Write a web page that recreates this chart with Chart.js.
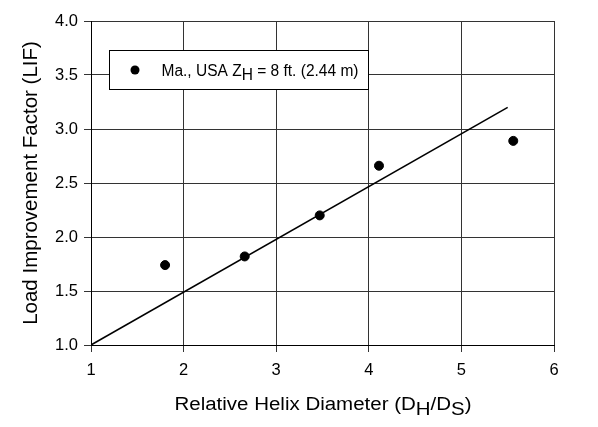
<!DOCTYPE html>
<html>
<head>
<meta charset="utf-8">
<script src="https://cdn.jsdelivr.net/npm/chart.js@4/dist/chart.umd.min.js"></script>
<style>
  html, body { margin: 0; padding: 0; background: #fff; }
  #wrap { width: 598px; height: 427px; }
</style>
</head>
<body>
<div id="wrap"><canvas id="lifChart" width="598" height="427"></canvas></div>
<script>
// ==============================
// DATA
// ==============================
const helixRatio = [1.80, 2.66, 3.47, 4.11, 5.56];
const lifValues = [1.74, 1.82, 2.20, 2.66, 2.89];
const fitX = [1, 5.5];
const fitY = [1.0, 3.2];
const xTicks = [1, 2, 3, 4, 5, 6];
const yTicks = [1.0, 1.5, 2.0, 2.5, 3.0, 3.5, 4.0];

const FONT = "'Liberation Sans', Arial, sans-serif";

// draws text runs with subscripts, returns total width
function drawRuns(ctx, runs, x, y, size, measureOnly) {
  let cx = x;
  runs.forEach(r => {
    ctx.font = `${size}px ${FONT}`;
    const w = ctx.measureText(r.t).width;
    if (!measureOnly) ctx.fillText(r.t, cx, r.sub ? y + size * 0.25 : y);
    cx += w;
  });
  return cx - x;
}

// draws runs centred on cx, stretched to a given width
function drawStretched(ctx, runs, cx, y, size, targetW) {
  const w = drawRuns(ctx, runs, 0, 0, size, true);
  ctx.save();
  ctx.translate(cx, y);
  ctx.scale(targetW / w, 1);
  drawRuns(ctx, runs, -w / 2, 0, size);
  ctx.restore();
}

// ==============================
// LEGEND + X TITLE PLUGIN
// ==============================
const annotations = {
  id: "annotations",
  afterDraw(chart) {
    const ctx = chart.ctx;
    ctx.save();
    ctx.textBaseline = "alphabetic";
    ctx.textAlign = "left";

    // legend box
    ctx.fillStyle = "#fff";
    ctx.fillRect(109.5, 50.5, 259, 39);
    ctx.strokeStyle = "#000";
    ctx.lineWidth = 1;
    ctx.strokeRect(109.5, 50.5, 259, 39);
    ctx.fillStyle = "#000";
    ctx.beginPath();
    ctx.arc(135, 70, 4.5, 0, Math.PI * 2);
    ctx.fill();
    drawStretched(ctx, [
      { t: "Ma., USA Z" }, { t: "H", sub: true }, { t: " = 8 ft. (2.44 m)" }
    ], 260, 75.5, 16, 197);

    // x axis title
    drawStretched(ctx, [
      { t: "Relative Helix Diameter (D" }, { t: "H", sub: true },
      { t: "/D" }, { t: "S", sub: true }, { t: ")" }
    ], 323, 410, 18, 297);
    ctx.restore();
  }
};

// ==============================
// CHART
// ==============================
new Chart(document.getElementById("lifChart"), {
  type: "scatter",
  data: {
    datasets: [
      {
        label: "Ma., USA",
        data: helixRatio.map((x, i) => ({ x: x, y: lifValues[i] })),
        backgroundColor: "#000",
        borderColor: "#000",
        pointRadius: 4.5,
        pointHoverRadius: 4.5
      },
      {
        type: "line",
        label: "fit",
        data: fitX.map((x, i) => ({ x: x, y: fitY[i] })),
        borderColor: "#000",
        borderWidth: 1.6,
        pointRadius: 0,
        fill: false
      }
    ]
  },
  options: {
    responsive: false,
    animation: false,
    layout: { padding: { top: 21, right: 44, bottom: 0, left: 0 } },
    plugins: {
      legend: { display: false },
      tooltip: { enabled: false }
    },
    scales: {
      x: {
        type: "linear",
        min: 1,
        max: 6,
        afterFit: s => { s.height = 82; },
        afterBuildTicks: s => { s.ticks = xTicks.map(v => ({ value: v })); },
        ticks: {
          color: "#000",
          padding: 9,
          font: { family: FONT, size: 16.5 },
          callback: v => String(v)
        },
        grid: { color: "#333", lineWidth: 1, tickLength: 7 },
        border: { color: "#000", width: 1 }
      },
      y: {
        type: "linear",
        min: 1,
        max: 4,
        afterFit: s => { s.width = 91; },
        afterBuildTicks: s => { s.ticks = yTicks.map(v => ({ value: v })); },
        ticks: {
          color: "#000",
          padding: 6,
          font: { family: FONT, size: 16.5 },
          callback: v => Number(v).toFixed(1)
        },
        grid: { color: "#333", lineWidth: 1, tickLength: 7 },
        border: { color: "#000", width: 1 },
        title: {
          display: true,
          text: "Load Improvement Factor (LIF)",
          color: "#000",
          font: { family: FONT, size: 20.5 },
          padding: { top: 19, bottom: 0 }
        }
      }
    }
  },
  plugins: [annotations]
});
</script>
</body>
</html>
